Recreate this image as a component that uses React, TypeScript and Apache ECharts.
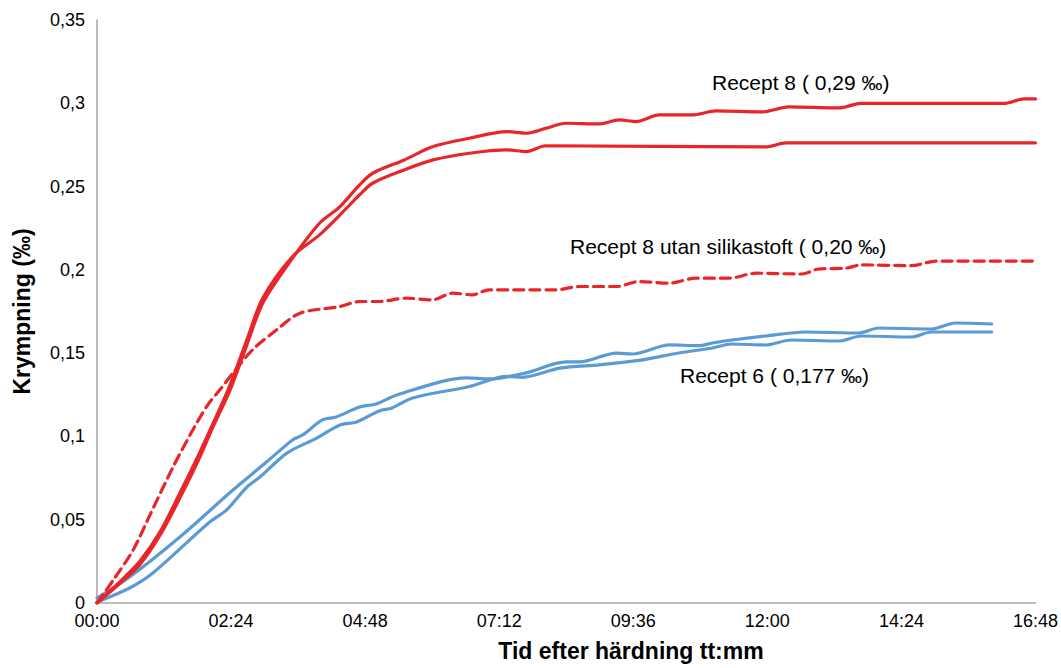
import React, { useEffect, useRef } from "react";
import * as echarts from "echarts";

// time in minutes after hardening, shrinkage in ‰
const recept8A: [number, number][] = [
  [0, 0], [25, 0.012], [46, 0.023], [68, 0.041], [89, 0.063], [110, 0.087], [124, 0.105], [143, 0.128],
  [161, 0.155], [178, 0.18], [210, 0.207], [239, 0.228], [261, 0.238], [282, 0.251], [296, 0.258],
  [330, 0.266], [361, 0.274], [400, 0.279], [440, 0.283], [461, 0.282], [482, 0.285], [504, 0.288],
  [539, 0.2876], [561, 0.29], [579, 0.289], [604, 0.293], [639, 0.293], [665, 0.2954], [714, 0.2948],
  [743, 0.2978], [797, 0.2972], [821, 0.3], [976, 0.3], [995, 0.3026], [1008, 0.3026],
];
const recept8B: [number, number][] = [
  [0, 0], [25, 0.013], [46, 0.025], [68, 0.043], [89, 0.066], [110, 0.09], [124, 0.107], [143, 0.131],
  [161, 0.158], [178, 0.183], [210, 0.208], [239, 0.221], [261, 0.233], [282, 0.245], [296, 0.252],
  [330, 0.26], [361, 0.266], [400, 0.27], [440, 0.272], [461, 0.271], [482, 0.2745], [718, 0.2738],
  [740, 0.2762], [1008, 0.2762],
];
const recept8UtanSilika: [number, number][] = [
  [0, 0], [19, 0.015], [39, 0.032], [57, 0.053], [82, 0.082], [103, 0.104], [119, 0.119], [132, 0.128],
  [146, 0.138], [167, 0.152], [193, 0.164], [218, 0.174], [261, 0.178], [282, 0.181], [303, 0.181],
  [332, 0.183], [360, 0.182], [382, 0.186], [403, 0.185], [421, 0.188], [493, 0.188], [518, 0.19],
  [558, 0.19], [582, 0.193], [614, 0.192], [643, 0.195], [679, 0.195], [708, 0.198], [757, 0.1975],
  [775, 0.2005], [804, 0.201], [821, 0.203], [875, 0.2025], [901, 0.2053], [1006, 0.2053],
];
const recept6A: [number, number][] = [
  [0, 0.003], [35, 0.0156], [89, 0.0396], [146, 0.0678], [182, 0.0846], [210, 0.0979], [221, 0.1009],
  [242, 0.1099], [257, 0.1117], [282, 0.1177], [300, 0.1195], [322, 0.1249], [397, 0.1351], [421, 0.1345],
  [460, 0.138], [504, 0.1447], [518, 0.1447], [558, 0.15], [575, 0.1495], [615, 0.155], [646, 0.1545],
  [661, 0.1561], [682, 0.1579], [718, 0.1603], [761, 0.1627], [818, 0.1621], [840, 0.1651], [896, 0.1645],
  [922, 0.1681], [961, 0.1675],
];
const recept6B: [number, number][] = [
  [0, 0.0006], [35, 0.009], [60, 0.018], [121, 0.0486], [139, 0.0558], [161, 0.0696], [175, 0.0756],
  [204, 0.09], [236, 0.099], [261, 0.1069], [279, 0.1087], [303, 0.1153], [317, 0.1171], [339, 0.1231],
  [400, 0.13], [440, 0.136], [457, 0.1355], [497, 0.141], [540, 0.143], [580, 0.1455], [625, 0.1501],
  [661, 0.1531], [682, 0.1555], [718, 0.1549], [746, 0.1579], [797, 0.1573], [821, 0.1603], [875, 0.1597],
  [896, 0.1627], [961, 0.1627],
];

const annotations = [
  { text: "Recept 8 ( 0,29 ‰)", x: 712, y: 84 },
  { text: "Recept 8 utan silikastoft ( 0,20 ‰)", x: 570, y: 248 },
  { text: "Recept 6 ( 0,177 ‰)", x: 680, y: 377 },
];

const xTitle = "Tid efter härdning tt:mm";
const yTitle = "Krympning (‰)";

const RED = "#E8262A";
const BLUE = "#5B9BD5";
const FONT = "'Liberation Sans', Arial, sans-serif";

function fmtTime(v: number): string {
  const h = Math.floor(v / 60);
  const m = Math.round(v - h * 60);
  return String(h).padStart(2, "0") + ":" + String(m).padStart(2, "0");
}

export default function App() {
  const ref = useRef<HTMLDivElement>(null);
  useEffect(() => {
    if (!ref.current) return;
    const chart = echarts.init(ref.current, undefined, { renderer: "svg" });
    const lineSeries = (name: string, data: [number, number][], color: string, dashed = false) => ({
      name,
      type: "line",
      data,
      showSymbol: false,
      smooth: 0.3,
      lineStyle: { color, width: 3.2, type: dashed ? [10, 6] : "solid", cap: "round" },
      itemStyle: { color },
    });
    chart.setOption({
      animation: false,
      backgroundColor: "#fff",
      textStyle: { fontFamily: FONT },
      grid: { left: 97, right: 24, top: 20, bottom: 65, containLabel: false },
      xAxis: {
        type: "value",
        min: 0,
        max: 1008,
        interval: 144,
        axisLine: { show: true, lineStyle: { color: "#A6A6A6", width: 1.5 } },
        axisTick: { show: false },
        splitLine: { show: false },
        axisLabel: { color: "#000", fontSize: 18, margin: 9, fontFamily: FONT, formatter: (v: number) => fmtTime(v) },
      },
      yAxis: {
        type: "value",
        min: 0,
        max: 0.35,
        interval: 0.05,
        name: yTitle,
        nameLocation: "middle",
        nameRotate: 90,
        nameGap: 64,
        nameTextStyle: { fontSize: 23, fontWeight: "bold", color: "#000", fontFamily: FONT },
        axisLine: { show: true, lineStyle: { color: "#A6A6A6", width: 1.5 } },
        axisTick: { show: false },
        splitLine: { show: false },
        axisLabel: {
          color: "#000",
          fontSize: 18,
          margin: 12,
          fontFamily: FONT,
          formatter: (v: number) => String(parseFloat(v.toFixed(3))).replace(".", ","),
        },
      },
      graphic: [
        ...annotations.map((a) => ({
          type: "text",
          left: a.x,
          top: a.y - 12,
          style: { text: a.text, fontSize: 21, fill: "#000", fontFamily: FONT },
        })),
        {
          type: "text",
          x: 631,
          y: 651,
          style: {
            text: xTitle,
            fontSize: 23,
            fontWeight: "bold",
            fill: "#000",
            fontFamily: FONT,
            align: "center",
            verticalAlign: "middle",
          },
        },
      ],
      series: [
        lineSeries("Recept 6 a", recept6A, BLUE),
        lineSeries("Recept 6 b", recept6B, BLUE),
        lineSeries("Recept 8 utan silikastoft", recept8UtanSilika, RED, true),
        lineSeries("Recept 8 a", recept8A, RED),
        lineSeries("Recept 8 b", recept8B, RED),
      ],
    });
    return () => chart.dispose();
  }, []);
  return (
    <div
      ref={ref}
      style={{ position: "fixed", left: 0, top: 0, width: 1061, height: 668, background: "#fff" }}
    />
  );
}
